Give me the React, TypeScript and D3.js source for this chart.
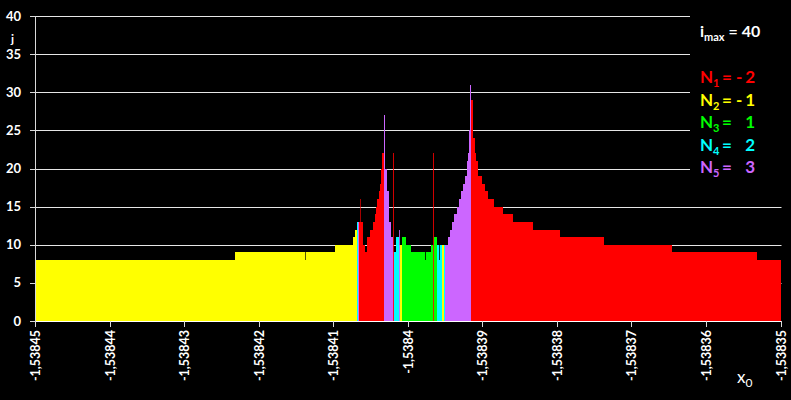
import { useEffect, useRef } from "react";
import * as d3 from "d3";

// bar boundaries along x0 (each bar spans xEdges[i] .. xEdges[i+1])
const xEdges = [
  -1.53845, -1.53842317, -1.53841374, -1.53841366, -1.5384098, -1.53840741, -1.53840708, -1.53840681,
  -1.53840667, -1.53840654, -1.53840638, -1.5384063, -1.538406, -1.53840573, -1.53840547, -1.53840506,
  -1.5384047, -1.53840443, -1.53840426, -1.53840408, -1.5384039, -1.53840372, -1.53840359, -1.53840345,
  -1.53840319, -1.53840305, -1.53840278, -1.53840252, -1.53840225, -1.53840197, -1.53840187, -1.53840151,
  -1.53840117, -1.53840107, -1.53840077, -1.53840023, -1.53839952, -1.53839765, -1.53839755, -1.53839688,
  -1.53839659, -1.53839649, -1.53839608, -1.53839574, -1.53839565, -1.53839534, -1.5383952, -1.538395,
  -1.5383946, -1.53839433, -1.53839402, -1.53839376, -1.53839343, -1.53839317, -1.53839286, -1.53839255,
  -1.53839228, -1.53839209, -1.53839196, -1.53839178, -1.53839165, -1.53839145, -1.53839129, -1.53839102,
  -1.5383908, -1.53839054, -1.53839008, -1.53838968, -1.53838928, -1.53838843, -1.53838726, -1.53838584,
  -1.5383832, -1.53837958, -1.53837368, -1.53836451, -1.53835319, -1.53835,
];

// iteration count j for each bar
const jValues = [
  8, 9, 8, 9, 10, 11, 12, 13, 13, 13, 16, 13, 10, 9, 11, 12, 13, 14, 15, 16, 17, 18, 20, 22,
  27, 20, 17, 13, 11, 22, 9, 11, 12, 10, 11, 10, 9, 8, 9, 10, 22, 11, 10, 8, 10, 10, 10, 10,
  11, 12, 13, 14, 15, 16, 17, 18, 19, 21, 22, 25, 31, 29, 24, 22, 21, 19, 18, 17, 16, 15, 14,
  13, 12, 11, 10, 9, 8,
];

// N for each bar (decides the colour)
const nValues = [
  -1, -1, -1, -1, -1, -1, -1, 2, 3, -2, -2, -2, -2, -2, -2, -2, -2, -2, -2, -2, -2, -2, -2, -2,
  3, 3, 3, 3, 3, -2, 2, 2, 3, -1, 1, 1, 1, 1, 1, 1, -2, 1, 2, 2, 2, -1, 2, 3,
  3, 3, 3, 3, 3, 3, 3, 3, 3, 3, 3, 3, 3, -2, -2, -2, -2, -2, -2, -2, -2, -2, -2,
  -2, -2, -2, -2, -2, -2,
];

const yTicks = [0, 5, 10, 15, 20, 25, 30, 35, 40];
const xTicks = [
  -1.53845, -1.53844, -1.53843, -1.53842, -1.53841, -1.5384, -1.53839, -1.53838, -1.53837, -1.53836, -1.53835,
];
const legendN = [-2, -1, 1, 2, 3];
const iMax = 40;

const colorByN: Record<number, string> = {
  [-2]: "#ff0000",
  [-1]: "#ffff00",
  1: "#00ff00",
  2: "#00ffff",
  3: "#cc66ff",
};

const W = 791;
const H = 400;
const FONT = "Lato, 'Open Sans', sans-serif";

export default function App() {
  const svgRef = useRef<SVGSVGElement>(null);

  useEffect(() => {
    const svg = d3.select(svgRef.current);
    svg.selectAll("*").remove();

    const left = 35;
    const right = 780.5;
    const top = 16;
    const bottom = 321;

    const x = d3.scaleLinear().domain([-1.53845, -1.53835]).range([left, right]);
    const y = d3.scaleLinear().domain([0, 40]).range([bottom, top]);

    svg.append("rect").attr("width", W).attr("height", H).attr("fill", "#000");

    // gridlines
    svg
      .append("g")
      .selectAll("line")
      .data(yTicks.filter((t) => t > 0))
      .join("line")
      .attr("x1", left)
      .attr("x2", right + 1)
      .attr("y1", (d) => Math.round(y(d)) + 0.5)
      .attr("y2", (d) => Math.round(y(d)) + 0.5)
      .attr("stroke", "#e6e6e6")
      .attr("stroke-width", 1);

    // legend box hides the gridlines under it
    svg.append("rect").attr("x", 690).attr("y", 8).attr("width", 100).attr("height", 176).attr("fill", "#000");

    // bars
    const idx = d3.range(jValues.length);
    const bw = (i: number) => x(xEdges[i + 1]) - x(xEdges[i]);
    const wide = idx.filter((i) => bw(i) >= 0.95);
    const narrow = idx.filter((i) => bw(i) < 0.95);

    const bars = svg.append("g").attr("shape-rendering", "crispEdges");
    bars
      .selectAll("rect")
      .data(wide)
      .join("rect")
      .attr("x", (i) => x(xEdges[i]))
      .attr("width", (i) => bw(i))
      .attr("y", (i) => y(jValues[i]))
      .attr("height", (i) => y(0) - y(jValues[i]))
      .attr("fill", (i) => colorByN[nValues[i]]);

    // sub-pixel bars: blend them into a single pixel column
    narrow.forEach((i) => {
      const px = Math.floor(x(xEdges[i]));
      const w = bw(i);
      const m = Math.min(jValues[i - 1], jValues[i + 1]);
      const v = jValues[i];
      const col = (lo: number, hi: number, fill: string, op: number) =>
        bars
          .append("rect")
          .attr("x", px)
          .attr("width", 1)
          .attr("y", y(hi))
          .attr("height", y(lo) - y(hi))
          .attr("fill", fill)
          .attr("fill-opacity", op);
      col(0, m, colorByN[nValues[i - 1]], 1);
      if (v > m) {
        col(0, v, colorByN[nValues[i]], Math.min(1, w * 1.1));
      } else {
        col(0, v, colorByN[nValues[i]], 1);
        col(v, m, "#000", Math.min(1, w * 1.1));
      }
    });

    // axes
    svg
      .append("line")
      .attr("x1", left + 0.5)
      .attr("x2", left + 0.5)
      .attr("y1", top)
      .attr("y2", bottom + 1)
      .attr("stroke", "#d9d9d9");
    svg
      .append("line")
      .attr("x1", left)
      .attr("x2", right + 1)
      .attr("y1", bottom + 0.5)
      .attr("y2", bottom + 0.5)
      .attr("stroke", "#ffffff");

    svg
      .append("g")
      .selectAll("line")
      .data(yTicks)
      .join("line")
      .attr("x1", left - 5)
      .attr("x2", left)
      .attr("y1", (d) => Math.round(y(d)) + 0.5)
      .attr("y2", (d) => Math.round(y(d)) + 0.5)
      .attr("stroke", "#d9d9d9");

    svg
      .append("g")
      .selectAll("line")
      .data(xTicks)
      .join("line")
      .attr("x1", (d) => Math.round(x(d)) + 0.5)
      .attr("x2", (d) => Math.round(x(d)) + 0.5)
      .attr("y1", bottom)
      .attr("y2", bottom + 6)
      .attr("stroke", "#d9d9d9");

    // y axis title
    svg
      .append("text")
      .attr("x", 12.5)
      .attr("y", 43)
      .attr("text-anchor", "middle")
      .attr("fill", "#fff")
      .attr("font-family", FONT)
      .attr("font-weight", "bold")
      .attr("font-size", 12)
      .text("j");

    svg
      .append("g")
      .selectAll("text")
      .data(yTicks)
      .join("text")
      .attr("x", 21)
      .attr("y", (d) => y(d) + 4.5)
      .attr("text-anchor", "end")
      .attr("fill", "#fff")
      .attr("font-family", FONT)
      .attr("font-weight", "bold")
      .attr("font-size", 13)
      .text((d) => String(d));

    const fmt = (v: number) => d3.format(".5~f")(v).replace(".", ",").replace("−", "-");
    svg
      .append("g")
      .selectAll("text")
      .data(xTicks)
      .join("text")
      .attr("transform", (d) => `translate(${x(d) + 5},330) rotate(-90)`)
      .attr("text-anchor", "end")
      .attr("fill", "#fff")
      .attr("font-family", FONT)
      .attr("font-weight", "bold")
      .attr("font-size", 12.5)
      .text((d) => fmt(d));

    // x axis title
    const xt = svg
      .append("text")
      .attr("x", 737)
      .attr("y", 383)
      .attr("fill", "#fff")
      .attr("font-family", FONT)
      .attr("font-size", 17);
    xt.append("tspan").text("x");
    xt.append("tspan").attr("dy", 4).attr("font-size", 12).text("0");

    // legend
    const lg = svg
      .append("text")
      .attr("x", 700)
      .attr("y", 37)
      .attr("fill", "#fff")
      .attr("font-family", FONT)
      .attr("font-weight", "bold")
      .attr("font-size", 16);
    lg.append("tspan").text("i");
    lg.append("tspan").attr("dy", 4).attr("font-size", 11).text("max");
    lg.append("tspan").attr("dy", -4).text(` = ${iMax}`);

    legendN.forEach((n, k) => {
      const by = 83 + k * 22.5;
      const g = svg
        .append("g")
        .attr("fill", colorByN[n])
        .attr("font-family", FONT)
        .attr("font-weight", "bold")
        .attr("font-size", 17);
      const t = g.append("text").attr("x", 700).attr("y", by);
      t.append("tspan").text("N");
      t.append("tspan").attr("dy", 4).attr("font-size", 11).text(String(k + 1));
      g.append("text").attr("x", 722).attr("y", by).text("=");
      if (n < 0) g.append("text").attr("x", 736).attr("y", by).text("-");
      g.append("text").attr("x", 755).attr("y", by).attr("text-anchor", "end").text(String(Math.abs(n)));
    });
  }, []);

  return <svg ref={svgRef} width={W} height={H} style={{ position: "absolute", left: 0, top: 0 }}></svg>;
}
